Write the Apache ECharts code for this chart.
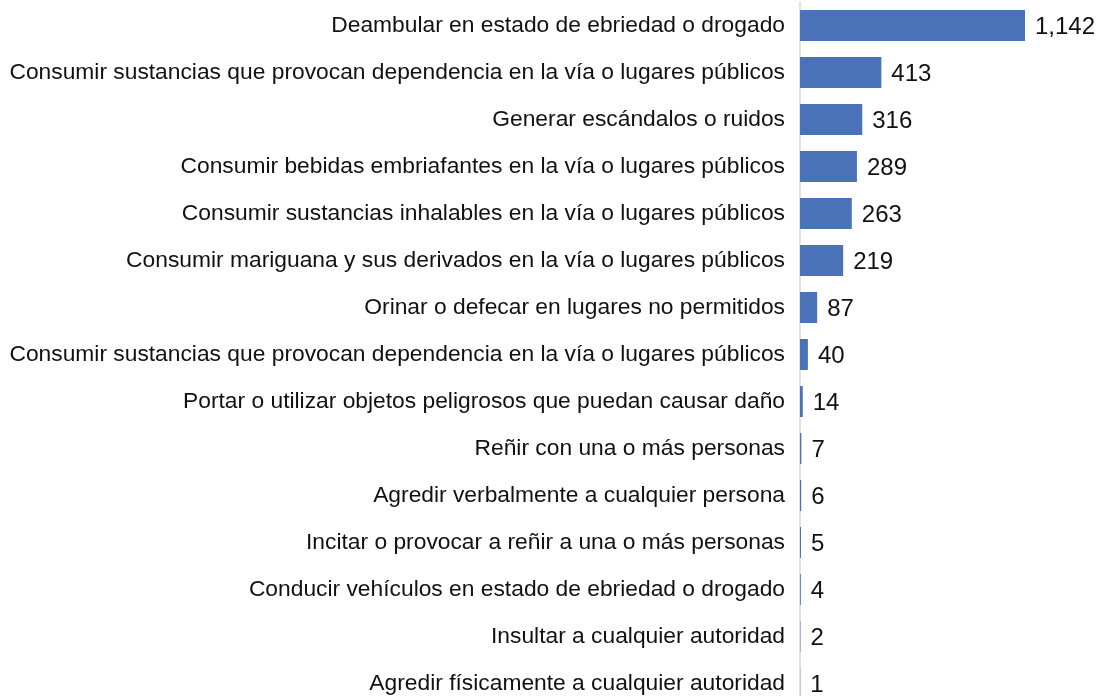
<!DOCTYPE html>
<html>
<head>
<meta charset="utf-8">
<script src="https://cdn.jsdelivr.net/npm/echarts@6/dist/echarts.min.js"></script>
<style>
html,body{margin:0;padding:0;background:#fff;overflow:hidden;}
#chart{width:1099px;height:712px;}
</style>
</head>
<body>
<div id="chart"></div>
<script>
var categories = [
	'Deambular en estado de ebriedad o drogado',
	'Consumir sustancias que provocan dependencia en la vía o lugares públicos',
	'Generar escándalos o ruidos',
	'Consumir bebidas embriafantes en la vía o lugares públicos',
	'Consumir sustancias inhalables en la vía o lugares públicos',
	'Consumir mariguana y sus derivados en la vía o lugares públicos',
	'Orinar o defecar en lugares no permitidos',
	'Consumir sustancias que provocan dependencia en la vía o lugares públicos ',
	'Portar o utilizar objetos peligrosos que puedan causar daño',
	'Reñir con una o más personas',
	'Agredir verbalmente a cualquier persona',
	'Incitar o provocar a reñir a una o más personas',
	'Conducir vehículos en estado de ebriedad o drogado',
	'Insultar a cualquier autoridad',
	'Agredir físicamente a cualquier autoridad'
];
var values = [1142, 413, 316, 289, 263, 219, 87, 40, 14, 7, 6, 5, 4, 2, 1];

var chart = echarts.init(document.getElementById('chart'));
var option = {
	animation:false,
	textStyle:{fontFamily:'Liberation Sans, Arial, sans-serif'},
	grid:{
		left:800,
		right:74,
		top:2,
		height:705,
		containLabel:false
	},
	xAxis:{
		type:'value',
		min:0,
		max:1142,
		show:false
	},
	yAxis:{
		type:'category',
		inverse:true,
		data:categories,
		axisLine:{show:true,lineStyle:{color:'#d9d9d9',width:1.5}},
		axisTick:{show:false},
		axisLabel:{color:'#111',fontSize:22.8,margin:15,formatter:function(v){ return v.trim(); }}
	},
	series:[{
		type:'bar',
		data:values,
		barWidth:31,
		itemStyle:{color:'#4a72b8'},
		label:{
			show:true,
			position:'right',
			distance:10,
			offset:[0,2],
			color:'#111',
			fontSize:24,
			formatter:function(p){ return p.value.toLocaleString('en-US'); }
		}
	}]
};
chart.setOption(option);
</script>
</body>
</html>
